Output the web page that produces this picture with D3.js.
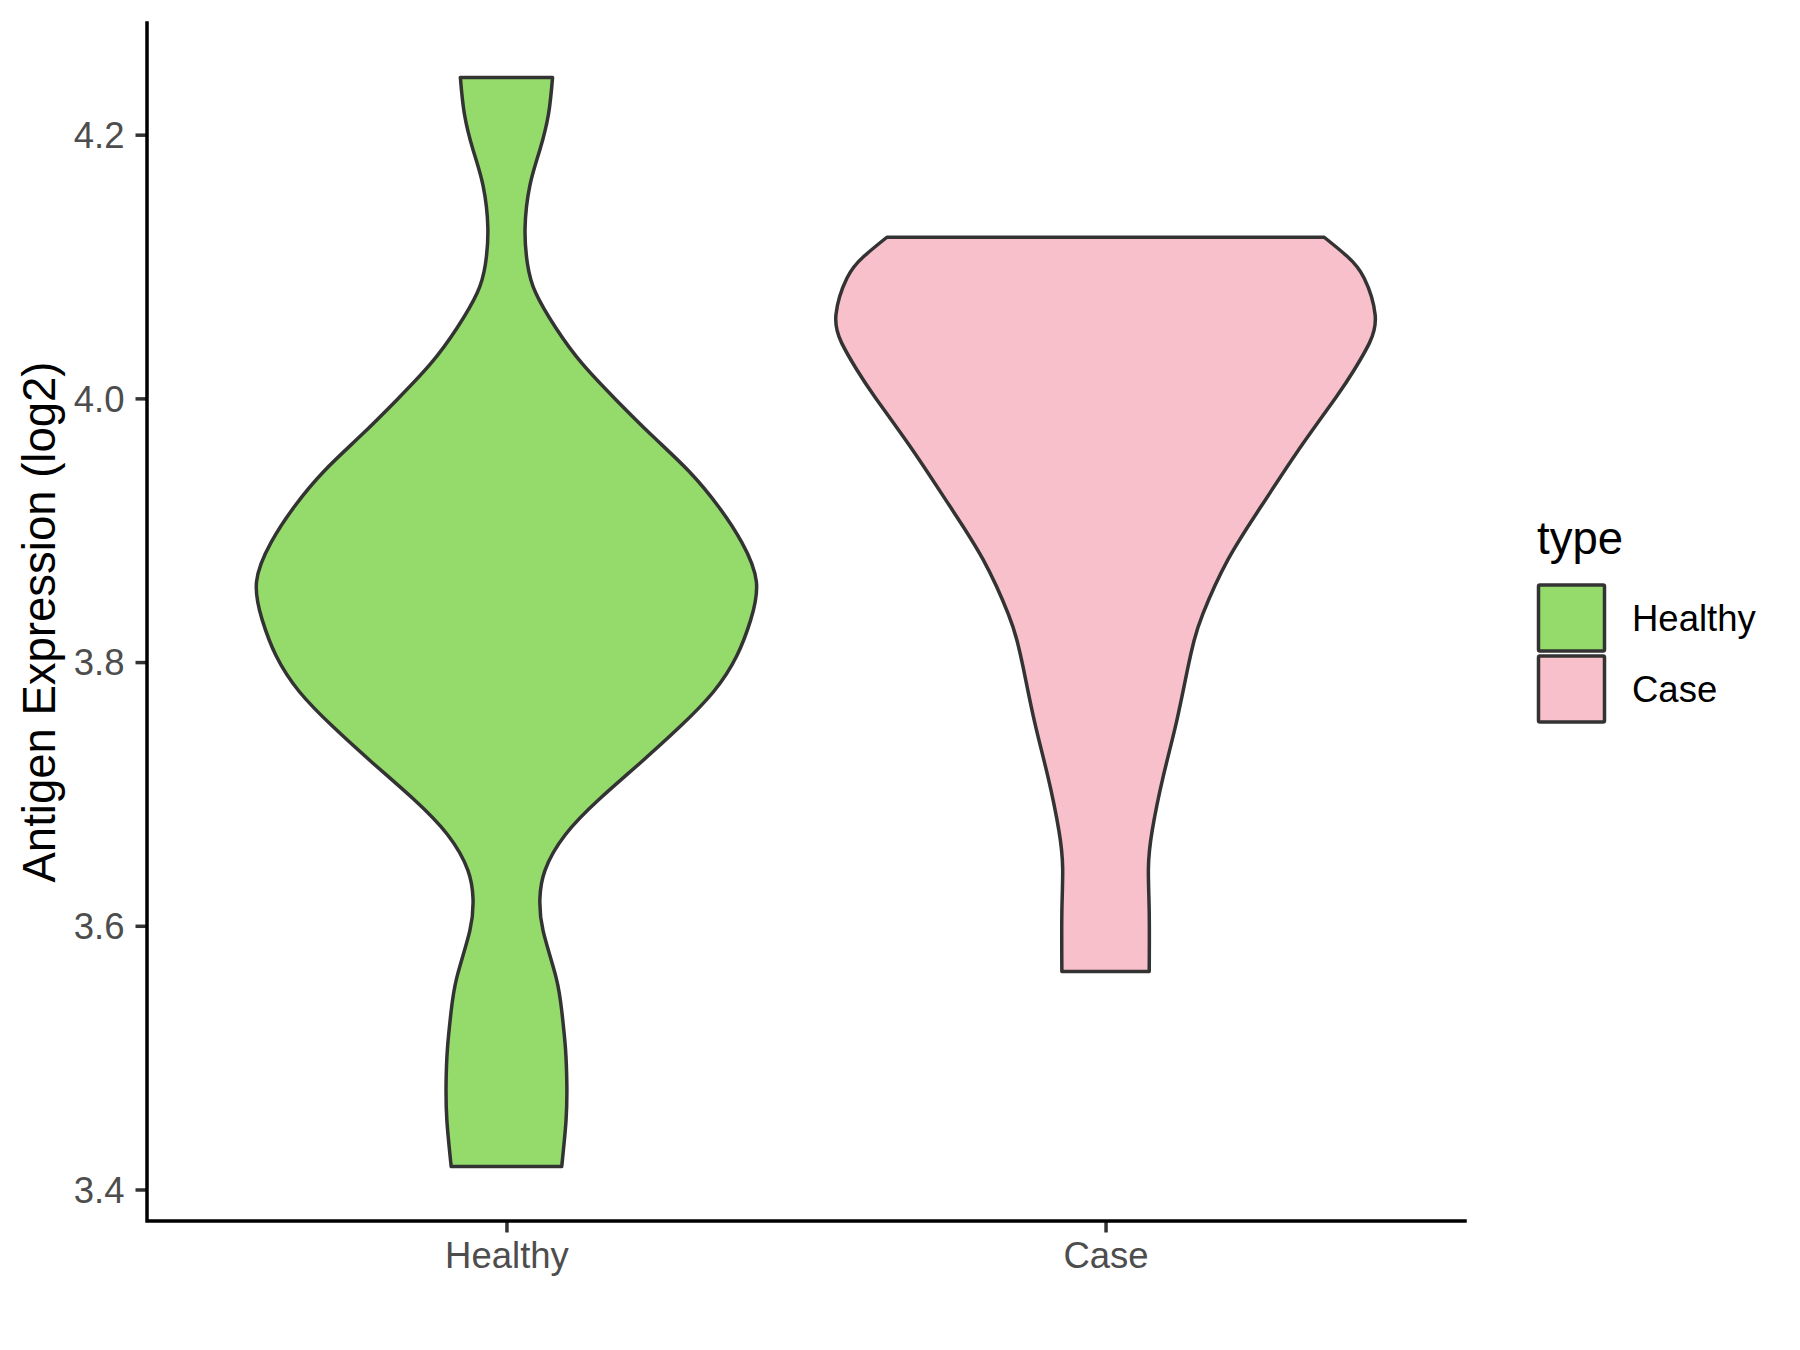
<!DOCTYPE html>
<html>
<head>
<meta charset="utf-8">
<script src="https://cdn.jsdelivr.net/npm/d3@7"></script>
<style>
  body { margin: 0; background: #fff; }
  svg { font-family: "Liberation Sans", Arial, sans-serif; }
</style>
</head>
<body>
<div id="main"></div>
<script>
// groups + colours
let groups = ['Healthy', 'Case'];
let fills = ['#94DB6B', '#F8C0CB'];
let yTicks = [3.4, 3.6, 3.8, 4.0, 4.2];

// violin outlines: expression value, relative half width (1 = widest)
let healthyValue = [4.2434, 4.2157, 4.1886, 4.1616, 4.129, 4.102, 4.0803, 4.0532, 4.0261, 3.999, 3.972, 3.9449, 3.9178, 3.8908, 3.861, 3.832, 3.8046, 3.7775, 3.7505, 3.7233, 3.6963, 3.6692, 3.6421, 3.6204, 3.5961, 3.5609, 3.5338, 3.5067, 3.4796, 3.4525, 3.4174];
let healthyWidth = [0.171, 0.156, 0.124, 0.087, 0.069, 0.078, 0.108, 0.184, 0.282, 0.406, 0.539, 0.676, 0.787, 0.873, 0.927, 0.906, 0.854, 0.768, 0.641, 0.495, 0.346, 0.219, 0.143, 0.124, 0.136, 0.184, 0.206, 0.219, 0.224, 0.221, 0.205];

let caseValue = [4.1222, 4.1078, 4.0913, 4.0634, 4.0421, 4.0215, 4.0009, 3.9598, 3.9187, 3.8777, 3.8365, 3.816, 3.7954, 3.7544, 3.7133, 3.6722, 3.6434, 3.6105, 3.5653];
let caseWidth = [0.811, 0.896, 0.959, 1.0, 0.979, 0.922, 0.855, 0.712, 0.579, 0.454, 0.361, 0.328, 0.305, 0.263, 0.214, 0.173, 0.159, 0.162, 0.162];

let violins = [
  {group: 'Healthy', pts: healthyValue.map((v,i)=>({v, w: healthyWidth[i]}))},
  {group: 'Case', pts: caseValue.map((v,i)=>({v, w: caseWidth[i]}))},
];

let [W, H] = [1800, 1350];
let margin = {left: 147, right: 335, top: 23, bottom: 129};

let svg = d3.select('#main').append('svg')
  .attr('width', W)
  .attr('height', H);

let allV = healthyValue.concat(caseValue);
let [lo, hi] = d3.extent(allV);
let pad = (hi - lo) * 0.05;

let x = d3.scalePoint()
  .domain(groups)
  .range([margin.left, W - margin.right])
  .padding(0.6);
let y = d3.scaleLinear()
  .domain([lo - pad, hi + pad])
  .range([H - margin.bottom, margin.top]);
let color = d3.scaleOrdinal().domain(groups).range(fills);

let halfMax = x.step() * 0.45;

// violins
let area = d3.area()
  .curve(d3.curveNatural)
  .y(d=>y(d.v));

svg.selectAll('.violin')
  .data(violins)
  .join('path')
  .attr('class', 'violin')
  .attr('d', d=>{
    let cx = x(d.group);
    return area.x0(p=>cx - p.w*halfMax).x1(p=>cx + p.w*halfMax)(d.pts);
  })
  .attr('fill', d=>color(d.group))
  .attr('stroke', '#333333')
  .attr('stroke-width', 3.5)
  .attr('stroke-linejoin', 'round');

// axes
let yAxis = svg.append('g')
  .attr('transform', `translate(${margin.left},0)`)
  .call(d3.axisLeft(y).tickValues(yTicks).tickFormat(d3.format('.1f')).tickSize(11.5).tickPadding(11));
let xAxis = svg.append('g')
  .attr('transform', `translate(0,${H - margin.bottom})`)
  .call(d3.axisBottom(x).tickSize(11.5).tickPadding(9));

for(let g of [yAxis, xAxis]){
  g.select('.domain').remove();
  g.selectAll('.tick line').attr('stroke', '#333333').attr('stroke-width', 3.5);
  g.selectAll('.tick text')
    .attr('fill', '#4D4D4D')
    .style('font-size', '36.5px')
    .style('font-family', '"Liberation Sans", Arial, sans-serif');
}
yAxis.selectAll('.tick text').attr('dy', '0.35em');
xAxis.selectAll('.tick text').attr('dy', '0.72em');

// axis lines
svg.append('path')
  .attr('d', `M${margin.left},${margin.top}V${H - margin.bottom}H${W - margin.right}`)
  .attr('fill', 'none')
  .attr('stroke', '#000')
  .attr('stroke-width', 3.5)
  .attr('stroke-linecap', 'square');

// y title
svg.append('text')
  .attr('transform', `translate(55,${(margin.top + H - margin.bottom)/2}) rotate(-90)`)
  .attr('text-anchor', 'middle')
  .style('font-size', '45.5px')
  .attr('fill', '#000')
  .text('Antigen Expression (log2)');

// legend
let legend = svg.append('g').attr('transform', 'translate(1537,0)');
legend.append('text')
  .attr('x', 0)
  .attr('y', 554)
  .style('font-size', '45.5px')
  .attr('fill', '#000')
  .text('type');
let items = legend.selectAll('.item')
  .data(groups)
  .join('g')
  .attr('class', 'item')
  .attr('transform', (d,i)=>`translate(0,${585 + i*71})`);
items.append('rect')
  .attr('x', 1.5)
  .attr('y', 0)
  .attr('width', 66)
  .attr('height', 66)
  .attr('rx', 1.5)
  .attr('fill', d=>color(d))
  .attr('stroke', '#333333')
  .attr('stroke-width', 3.5);
items.append('text')
  .attr('x', 95)
  .attr('y', 33)
  .attr('dy', '0.35em')
  .style('font-size', '36.5px')
  .attr('fill', '#000')
  .text(d=>d);
</script>
</body>
</html>
